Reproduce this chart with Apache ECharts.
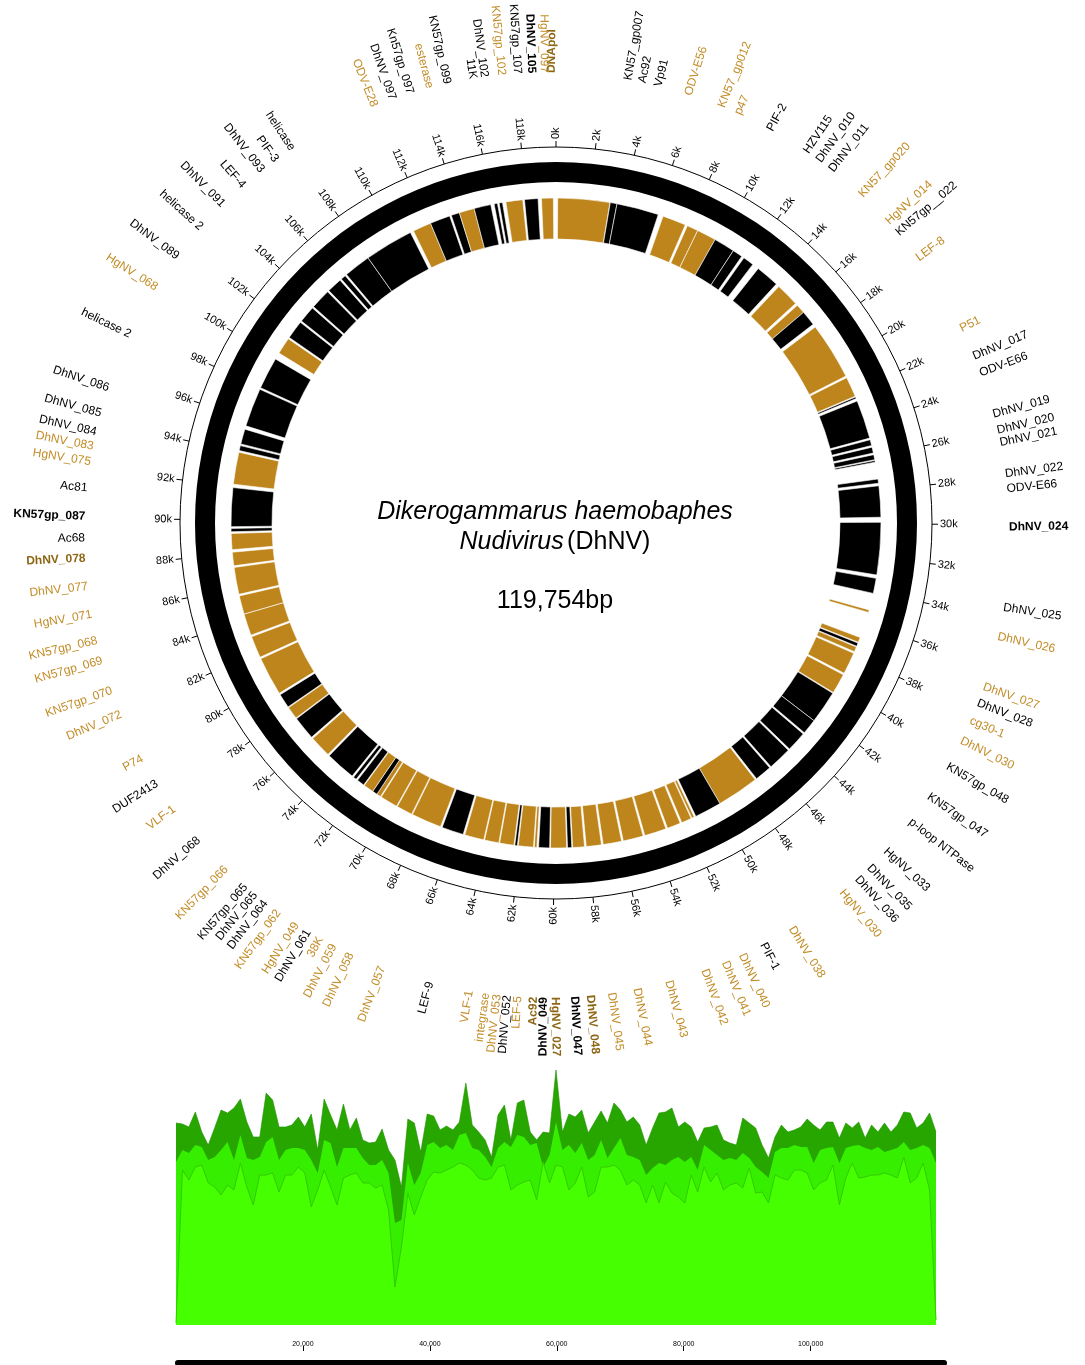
<!DOCTYPE html>
<html>
<head>
<meta charset="utf-8">
<script src="https://cdn.jsdelivr.net/npm/echarts@6/dist/echarts.min.js"></script>
<style>
html, body { margin: 0; padding: 0; background: #fff; }
#chart { width: 1085px; height: 1365px; }
</style>
</head>
<body>
<div id="chart"></div>
<script>
// genome length (bp)
const GENOME = 119754;

// gene blocks, start / end in kb, g = gold, b = black
const geneStart = [0.10, 3.20, 3.60, 6.40, 7.93, 8.60, 9.75, 11.00, 11.75, 12.80, 14.40, 15.95, 16.50, 17.60, 21.10, 22.35, 22.60, 25.00, 25.45, 25.90, 26.25, 27.35, 27.75, 29.90, 33.20, 35.10, 36.80, 37.15, 37.40, 37.80, 39.20, 40.45, 42.40, 43.40, 44.70, 46.20, 47.30, 49.80, 51.50, 51.70, 52.40, 53.30, 54.70, 56.00, 57.20, 58.20, 58.95, 59.25, 60.25, 61.00, 61.20, 62.15, 62.35, 63.25, 64.15, 65.40, 66.80, 68.65, 69.65, 70.75, 71.00, 71.30, 71.95, 72.50, 72.80, 74.70, 76.10, 77.55, 78.35, 79.30, 81.70, 83.10, 84.40, 85.60, 87.30, 88.25, 89.30, 89.60, 92.10, 94.10, 94.50, 95.60, 98.00, 100.30, 101.40, 102.60, 103.70, 105.00, 106.00, 106.40, 108.00, 111.10, 112.20, 113.50, 114.00, 114.90, 116.10, 116.40, 116.80, 117.90, 118.90];
const geneEnd = [3.18, 3.60, 6.10, 7.80, 8.60, 9.75, 11.00, 11.60, 12.40, 14.20, 15.80, 16.50, 17.40, 21.00, 22.30, 22.45, 24.90, 25.35, 25.80, 26.20, 26.35, 27.60, 29.60, 33.00, 34.10, 35.25, 37.10, 37.35, 37.70, 39.10, 40.40, 42.40, 43.30, 44.60, 46.10, 47.20, 49.80, 51.40, 51.65, 52.30, 53.20, 54.60, 55.90, 57.10, 58.10, 58.90, 59.20, 60.20, 60.90, 61.15, 62.10, 62.30, 63.20, 64.10, 65.30, 66.70, 68.60, 69.60, 70.70, 71.00, 71.30, 71.90, 72.40, 72.70, 74.60, 76.00, 77.50, 78.30, 79.20, 81.60, 83.00, 84.40, 85.50, 87.20, 88.10, 89.20, 89.50, 91.90, 94.00, 94.40, 95.40, 97.90, 99.90, 101.30, 102.50, 103.60, 104.90, 105.90, 106.30, 108.00, 110.90, 112.20, 113.40, 114.00, 114.90, 115.90, 116.30, 116.60, 117.80, 118.70, 119.60];
const geneKind = ['g','b','b','g','g','g','b','b','b','b','g','g','b','g','g','b','b','b','b','b','b','b','b','b','b','g','g','b','g','g','g','b','b','b','b','b','g','b','g','g','g','g','g','g','g','g','b','g','b','g','g','b','g','g','g','b','g','g','g','g','b','g','b','b','b','g','b','g','b','g','g','g','g','g','g','g','b','b','g','b','b','b','b','g','b','b','b','b','b','b','b','g','b','b','g','b','b','b','g','b','g'];

// outer scale ticks
const tickValues = [0, 2000, 4000, 6000, 8000, 10000, 12000, 14000, 16000, 18000, 20000, 22000, 24000, 26000, 28000, 30000, 32000, 34000, 36000, 38000, 40000, 42000, 44000, 46000, 48000, 50000, 52000, 54000, 56000, 58000, 60000, 62000, 64000, 66000, 68000, 70000, 72000, 74000, 76000, 78000, 80000, 82000, 84000, 86000, 88000, 90000, 92000, 94000, 96000, 98000, 100000, 102000, 104000, 106000, 108000, 110000, 112000, 114000, 116000, 118000];
const tickLabels = ['0k','2k','4k','6k','8k','10k','12k','14k','16k','18k','20k','22k','24k','26k','28k','30k','32k','34k','36k','38k','40k','42k','44k','46k','48k','50k','52k','54k','56k','58k','60k','62k','64k','66k','68k','70k','72k','74k','76k','78k','80k','82k','84k','86k','88k','90k','92k','94k','96k','98k','100k','102k','104k','106k','108k','110k','112k','114k','116k','118k'];

// gene names around the map: text, position (bp), style (g gold, b black, G/B bold)
const labelText = ['DNApol','KN57_gp007','Ac92','Vp91','ODV-E56','KN57_gp012','p47','PIF-2','HZV115','DhNV_010','DhNV_011','KN57_gp020','HgNV_014','KN57gp__022','LEF-8','P51','DhNV_017','ODV-E66','DhNV_019','DhNV_020','DhNV_021','DhNV_022','ODV-E66','DhNV_024','DhNV_025','DhNV_026','DhNV_027','DhNV_028','cg30-1','DhNV_030','KN57gp_048','KN57gp_047','p-loop NTPase','HgNV_033','DhNV_035','DhNV_036','HgNV_030','DhNV_038','PIF-1','DhNV_040','DhNV_041','DhNV_042','DhNV_043','DhNV_044','DhNV_045','DhNV_048','DhNV_047','HgNV_027','DhNV_049','Ac92','LEF-5','DhNV_052','DhNV_053','integrase','VLF-1','LEF-9','DhNV_057','DhNV_058','DhNV_059','38K','DhNV_061','HgNV_049','KN57gp_062','DhNV_064','DhNV_065','KN57gp_065','KN57gp_066','DhNV_068','VLF-1','DUF2413','P74','DhNV_072','KN57gp_070','KN57gp_069','KN57gp_068','HgNV_071','DhNV_077','DhNV_078','Ac68','KN57gp_087','Ac81','HgNV_075','DhNV_083','DhNV_084','DhNV_085','DhNV_086','helicase 2','HgNV_068','DhNV_089','helicase 2','DhNV_091','LEF-4','DhNV_093','PIF-3','helicase','ODV-E28','DhNV_097','Kn57gp_097','esterase','KN57gp_099','11K','DhNV_102','KN57gp_102','KN57gp_107','DhNV_105','HgNV_097'];
const labelPos = [187, 3361, 3959, 4631, 5924, 7382, 8113, 9597, 11340, 11976, 12627, 14228, 15785, 16403, 17724, 21131, 22391, 23126, 24907, 25591, 26112, 27418, 28034, 29617, 32939, 34157, 36315, 37021, 37797, 38715, 39918, 41365, 42640, 44222, 45180, 45858, 46700, 49262, 50611, 51582, 52351, 53248, 54802, 56149, 57213, 58103, 58754, 59542, 60020, 60427, 61070, 61508, 61931, 62405, 63080, 64751, 66827, 68233, 69015, 69640, 70225, 70792, 71704, 72360, 72898, 73417, 74502, 76138, 77765, 79026, 80213, 82229, 83277, 84571, 85426, 86521, 87690, 88855, 89684, 90577, 91748, 92843, 93488, 94094, 94888, 95980, 98350, 100570, 102110, 103655, 104955, 106096, 107090, 107806, 108630, 112456, 113262, 114024, 114859, 115604, 116687, 117160, 117882, 118537, 119119, 119638];
const labelKind = ['G','b','b','b','g','g','g','b','b','b','b','g','g','b','g','g','b','b','b','b','b','b','b','B','b','g','g','b','g','g','b','b','b','b','b','b','g','g','b','g','g','g','g','g','g','G','B','G','B','G','g','b','g','g','g','b','g','g','g','g','b','g','g','b','b','b','g','b','g','b','g','g','g','g','g','g','g','G','b','B','b','g','g','b','b','b','b','g','b','b','b','b','b','b','b','g','b','b','g','b','b','b','g','b','B','g'];

// coverage profile below the map (three overlaid layers, 1 kb windows)
const covHigh = [202,201,198,213,193,180,197,215,212,217,226,203,188,188,232,225,198,198,200,208,198,211,175,226,210,195,221,195,207,185,182,183,196,175,165,138,206,202,173,211,209,195,199,195,203,242,200,193,185,168,210,220,185,222,225,193,185,193,192,255,193,211,208,215,192,203,214,202,222,215,203,208,200,180,197,212,213,217,198,203,198,183,197,198,200,185,182,180,207,202,197,180,167,188,200,193,195,198,206,200,195,203,203,187,202,197,203,187,200,193,202,193,200,213,212,197,202,212,193];
const covMid = [163,175,172,180,178,165,168,175,183,165,190,167,165,168,183,188,165,175,177,177,175,165,152,185,182,158,177,177,177,167,160,160,165,152,102,105,162,140,152,180,183,177,180,175,190,192,177,175,168,158,177,183,178,190,188,180,182,158,170,203,175,180,172,182,165,170,185,167,177,187,170,168,165,150,157,162,160,165,168,163,168,155,180,175,170,165,167,165,172,167,158,153,147,173,177,177,180,178,178,162,175,177,178,162,177,179,180,177,175,178,173,175,177,183,175,177,180,177,162];
const covLow = [2,155,145,158,160,142,138,130,140,135,162,138,120,150,150,152,133,150,150,158,152,118,135,155,138,120,147,150,152,142,142,137,140,115,38,78,132,110,128,145,153,152,155,158,162,160,155,147,145,147,158,160,135,140,143,145,125,163,142,160,158,135,142,158,128,133,158,158,160,155,140,145,140,122,140,122,143,132,128,122,150,133,158,143,152,135,140,142,137,157,132,133,122,150,147,145,155,155,152,135,142,145,160,120,147,162,147,148,150,150,152,150,147,168,142,147,162,135,5];
const axisTicks = [20000, 40000, 60000, 80000, 100000];

const GOLD = '#bd851b';
const GOLD_TEXT = '#c28c27';
const GOLD_BOLD = '#8d6714';
const FONT = '"Liberation Sans", Arial, sans-serif';

function sectorShape(params, api, r0, r1, from, to) {
  const cs = params.coordSys;
  const a = api.coord([r1, from]);
  const b = api.coord([r1, to]);
  const c = api.coord([r0, from]);
  let s = Math.atan2(a[1] - cs.cy, a[0] - cs.cx);
  let e = Math.atan2(b[1] - cs.cy, b[0] - cs.cx);
  if (e <= s + 1e-9) e += Math.PI * 2;
  return {
    cx: cs.cx, cy: cs.cy,
    r0: Math.hypot(c[0] - cs.cx, c[1] - cs.cy),
    r: Math.hypot(a[0] - cs.cx, a[1] - cs.cy),
    startAngle: s, endAngle: e, clockwise: true
  };
}

// radial text, reading outward on the right half, inward on the left half
function radialText(params, api, r, pos, text, style) {
  const cs = params.coordSys;
  const p = api.coord([r, pos]);
  const phi = Math.atan2(p[1] - cs.cy, p[0] - cs.cx);
  const right = pos < GENOME / 2;
  return {
    type: 'text', x: p[0], y: p[1],
    rotation: right ? -phi : -(phi + Math.PI),
    style: Object.assign({ text: text, align: right ? 'left' : 'right', verticalAlign: 'middle' }, style)
  };
}

const positions = covHigh.map((_, i) => i * GENOME / (covHigh.length - 1));

const chart = echarts.init(document.getElementById('chart'));
chart.setOption({
  animation: false,
  backgroundColor: '#fff',
  polar: [
    { center: [556, 523], radius: [0, 376] },
    { center: [547, 535], radius: [0, 462] }
  ],
  angleAxis: [
    { polarIndex: 0, type: 'value', min: 0, max: GENOME, startAngle: 90, clockwise: true,
      axisLine: { show: true, lineStyle: { color: '#000', width: 1 } },
      axisTick: { show: false }, axisLabel: { show: false }, splitLine: { show: false } },
    { polarIndex: 1, type: 'value', min: 0, max: GENOME, startAngle: 90, clockwise: true, show: false }
  ],
  radiusAxis: [
    { polarIndex: 0, type: 'value', min: 0, max: 376, show: false },
    { polarIndex: 1, type: 'value', min: 0, max: 462, show: false }
  ],
  grid: [
    { left: 176, width: 760, top: 1060, height: 265 },
    { left: 176, width: 760, top: 1350, height: 1 },
    { left: 178, width: 766, top: 1362, height: 1 }
  ],
  xAxis: [
    { gridIndex: 0, type: 'value', min: 0, max: GENOME, show: false },
    { gridIndex: 1, type: 'value', min: 0, max: GENOME, interval: 20000, position: 'top',
      axisLine: { show: false }, splitLine: { show: false },
      axisTick: { show: true, length: 5, customValues: axisTicks, lineStyle: { color: '#000', width: 1 } },
      axisLabel: { customValues: axisTicks, margin: 2, fontSize: 7, color: '#000', fontFamily: FONT,
        formatter: v => (v > 0 && v < GENOME) ? v.toLocaleString('en-US') : '' } },
    { gridIndex: 2, type: 'value', min: 0, max: GENOME,
      axisLine: { show: true, lineStyle: { color: '#000', width: 6 } },
      axisTick: { show: false }, axisLabel: { show: false }, splitLine: { show: false } }
  ],
  yAxis: [
    { gridIndex: 0, type: 'value', min: 0, max: 265, show: false },
    { gridIndex: 1, type: 'value', show: false },
    { gridIndex: 2, type: 'value', show: false }
  ],
  graphic: [
    { type: 'text', x: 555, y: 512, style: { text: 'Dikerogammarus haemobaphes', fontSize: 25, fontStyle: 'italic',
      fontFamily: FONT, fill: '#000', align: 'center', verticalAlign: 'middle' } },
    { type: 'text', x: 555, y: 542, style: { text: '{i|Nudivirus} {n|(DhNV)}', align: 'center', verticalAlign: 'middle',
      rich: { i: { fontSize: 25, fontStyle: 'italic', fontFamily: FONT, fill: '#000' },
              n: { fontSize: 25, fontFamily: FONT, fill: '#000' } } } },
    { type: 'text', x: 555, y: 601, style: { text: '119,754bp', fontSize: 25, fontFamily: FONT,
      fill: '#000', align: 'center', verticalAlign: 'middle' } }
  ],
  series: [
    {
      type: 'custom', coordinateSystem: 'polar', polarIndex: 0, silent: true,
      data: [[361, 0, GENOME]],
      renderItem: (params, api) => ({ type: 'sector', shape: sectorShape(params, api, 341, 361, 0, GENOME), style: { fill: '#000' } })
    },
    {
      type: 'custom', coordinateSystem: 'polar', polarIndex: 0, silent: true,
      data: geneStart.map((s, i) => [325, s * 1000, geneEnd[i] * 1000]),
      renderItem: (params, api) => ({
        type: 'sector',
        shape: sectorShape(params, api, 284, 325, api.value(1), api.value(2)),
        style: { fill: geneKind[params.dataIndex] === 'g' ? GOLD : '#000', stroke: '#fff', lineWidth: 0.6 }
      })
    },
    {
      type: 'custom', coordinateSystem: 'polar', polarIndex: 0, silent: true,
      data: tickValues.map(v => [376, v]),
      renderItem: (params, api) => {
        const v = tickValues[params.dataIndex];
        const p0 = api.coord([376, v]);
        const p1 = api.coord([382, v]);
        return { type: 'group', children: [
          { type: 'line', shape: { x1: p0[0], y1: p0[1], x2: p1[0], y2: p1[1] }, style: { stroke: '#000', lineWidth: 1 } },
          radialText(params, api, 384, v, tickLabels[params.dataIndex], { fontSize: 11, fontFamily: FONT, fill: '#000' })
        ] };
      }
    },
    {
      type: 'custom', coordinateSystem: 'polar', polarIndex: 1, silent: true,
      data: labelPos.map(p => [462, p]),
      renderItem: (params, api) => {
        const i = params.dataIndex;
        const k = labelKind[i];
        const fill = k === 'g' ? GOLD_TEXT : k === 'G' ? GOLD_BOLD : '#000';
        return radialText(params, api, 462, labelPos[i], labelText[i], {
          fontSize: 12, fontFamily: FONT, fill: fill, fontWeight: (k === 'G' || k === 'B') ? 'bold' : 'normal'
        });
      }
    },
    {
      type: 'line', xAxisIndex: 0, yAxisIndex: 0, symbol: 'none', silent: true,
      data: covHigh.map((v, i) => [positions[i], v]),
      lineStyle: { width: 0.6, color: '#1f8f00' }, areaStyle: { color: '#28a600', opacity: 1 }
    },
    {
      type: 'line', xAxisIndex: 0, yAxisIndex: 0, symbol: 'none', silent: true,
      data: covMid.map((v, i) => [positions[i], v]),
      lineStyle: { width: 0 }, areaStyle: { color: '#36ee00', opacity: 1 }
    },
    {
      type: 'line', xAxisIndex: 0, yAxisIndex: 0, symbol: 'none', silent: true,
      data: covLow.map((v, i) => [positions[i], v]),
      lineStyle: { width: 1, color: '#32cc00' }, areaStyle: { color: '#46ff00', opacity: 1 }
    }
  ]
});
</script>
</body>
</html>
